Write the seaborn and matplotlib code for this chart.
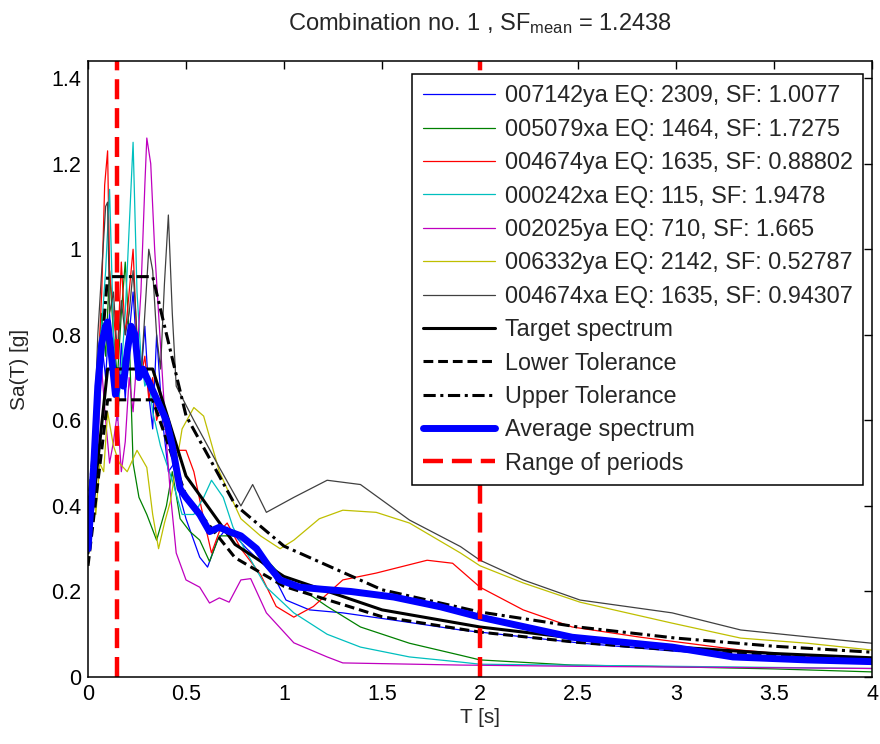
import numpy as np
import pandas as pd
import matplotlib
matplotlib.use("Agg")
import matplotlib.pyplot as plt
import seaborn as sns
from matplotlib.ticker import FuncFormatter

# ---------------- data ----------------
rec_labels = [
    "007142ya EQ: 2309, SF: 1.0077",
    "005079xa EQ: 1464, SF: 1.7275",
    "004674ya EQ: 1635, SF: 0.88802",
    "000242xa EQ: 115, SF: 1.9478",
    "002025ya EQ: 710, SF: 1.665",
    "006332ya EQ: 2142, SF: 0.52787",
    "004674xa EQ: 1635, SF: 0.94307",
]

blue_T = [0, 0.03, 0.05, 0.07, 0.09, 0.11, 0.13, 0.15, 0.17, 0.19, 0.21, 0.23, 0.25, 0.27, 0.29,
          0.31, 0.33, 0.35, 0.38, 0.41, 0.44, 0.47, 0.5, 0.57, 0.61, 0.66, 0.71, 0.81, 0.94, 1.01,
          1.13, 1.3, 1.56, 1.9, 2.0, 2.5, 3.0, 3.5, 4.0]
blue_v = [0.3, 0.45, 0.62, 0.78, 0.7, 0.85, 0.72, 0.6, 0.78, 0.65, 0.8, 0.9, 0.75, 0.7, 0.82,
          0.66, 0.58, 0.8, 0.6, 0.48, 0.5, 0.42, 0.37, 0.28, 0.257, 0.32, 0.35, 0.30, 0.243, 0.18,
          0.157, 0.15, 0.133, 0.11, 0.105, 0.08, 0.06, 0.045, 0.038]

green_T = [0, 0.03, 0.05, 0.07, 0.09, 0.11, 0.13, 0.15, 0.17, 0.19, 0.21, 0.23, 0.26, 0.30, 0.35,
           0.40, 0.43, 0.47, 0.52, 0.57, 0.62, 0.67, 0.78, 0.88, 0.98, 1.22, 1.39, 1.64, 1.9, 2.0,
           2.47, 2.98, 3.5, 4.0]
green_v = [0.3, 0.5, 0.7, 0.85, 0.75, 0.95, 0.8, 0.7, 0.85, 0.97, 0.8, 0.5, 0.42, 0.38, 0.32,
           0.40, 0.48, 0.37, 0.34, 0.32, 0.27, 0.33, 0.33, 0.29, 0.24, 0.165, 0.117, 0.079, 0.051, 0.04,
           0.028, 0.024, 0.019, 0.012]

red_T = [0, 0.03, 0.05, 0.07, 0.085, 0.10, 0.11, 0.13, 0.15, 0.17, 0.19, 0.21, 0.23, 0.25, 0.27,
         0.29, 0.31, 0.33, 0.35, 0.37, 0.42, 0.5, 0.54, 0.59, 0.63, 0.67, 0.71, 0.78, 0.88, 0.96,
         1.05, 1.15, 1.30, 1.47, 1.73, 1.86, 2.0, 2.22, 2.47, 2.82, 3.33, 4.0]
red_v = [0.3, 0.45, 0.7, 0.9, 1.15, 1.23, 0.95, 0.85, 0.75, 0.97, 0.8, 0.9, 1.0, 0.78, 0.7,
         0.75, 0.65, 0.7, 0.6, 0.63, 0.53, 0.53, 0.48, 0.37, 0.29, 0.34, 0.36, 0.30, 0.24, 0.165,
         0.14, 0.165, 0.227, 0.243, 0.273, 0.266, 0.21, 0.157, 0.117, 0.093, 0.063, 0.035]

cyan_T = [0, 0.03, 0.05, 0.07, 0.09, 0.11, 0.13, 0.15, 0.17, 0.19, 0.21, 0.23, 0.25, 0.27, 0.29,
          0.31, 0.33, 0.35, 0.37, 0.43, 0.48, 0.54, 0.59, 0.63, 0.69, 0.74, 0.81, 0.91, 1.05, 1.22,
          1.39, 1.64, 1.9, 2.0, 3.0, 4.0]
cyan_v = [0.3, 0.55, 0.75, 0.82, 0.95, 1.14, 0.8, 0.6, 0.72, 0.85, 1.05, 1.25, 0.9, 0.75, 0.68,
          0.7, 0.62, 0.58, 0.54, 0.46, 0.38, 0.38, 0.42, 0.46, 0.42, 0.35, 0.29, 0.21, 0.15, 0.10,
          0.07, 0.047, 0.035, 0.03, 0.025, 0.02]

mag_T = [0, 0.03, 0.05, 0.07, 0.09, 0.11, 0.13, 0.15, 0.17, 0.19, 0.21, 0.23, 0.25, 0.27, 0.29,
         0.30, 0.32, 0.34, 0.36, 0.38, 0.40, 0.42, 0.45, 0.5, 0.57, 0.62, 0.67, 0.72, 0.78, 0.83,
         0.91, 1.05, 1.22, 1.30, 1.9, 2.5, 4.0]
mag_v = [0.3, 0.45, 0.55, 0.72, 0.6, 0.5, 0.55, 0.62, 0.48, 0.55, 0.7, 0.62, 0.75, 0.9, 1.15,
         1.26, 1.2, 1.0, 0.85, 0.7, 0.55, 0.43, 0.29, 0.227, 0.21, 0.173, 0.185, 0.175, 0.227, 0.23,
         0.15, 0.08, 0.047, 0.033, 0.028, 0.025, 0.02]

yel_T = [0, 0.02, 0.04, 0.06, 0.08, 0.10, 0.13, 0.16, 0.20, 0.25, 0.30, 0.33, 0.36, 0.39, 0.42,
         0.48, 0.54, 0.59, 0.67, 0.78, 0.88, 0.98, 1.05, 1.18, 1.30, 1.47, 1.64, 1.9, 2.0, 2.22,
         2.51, 2.98, 3.33, 3.67, 4.0]
yel_v = [0.3, 0.5, 0.38, 0.5, 0.48, 0.62, 0.54, 0.5, 0.48, 0.53, 0.49, 0.38, 0.30, 0.36, 0.41,
         0.58, 0.63, 0.61, 0.48, 0.37, 0.33, 0.30, 0.32, 0.37, 0.39, 0.385, 0.36, 0.29, 0.26, 0.22,
         0.175, 0.126, 0.091, 0.079, 0.063]

gray_T = [0, 0.03, 0.05, 0.07, 0.09, 0.10, 0.11, 0.13, 0.15, 0.17, 0.19, 0.21, 0.23, 0.25, 0.27,
          0.29, 0.31, 0.33, 0.35, 0.37, 0.39, 0.41, 0.43, 0.45, 0.54, 0.67, 0.78, 0.84, 0.91, 1.05,
          1.22, 1.39, 1.64, 1.9, 2.0, 2.22, 2.51, 2.98, 3.33, 3.67, 4.0]
gray_v = [0.3, 0.55, 0.8, 0.95, 1.1, 1.11, 0.85, 0.9, 0.75, 0.88, 0.8, 0.85, 0.95, 0.8, 0.7,
          0.85, 1.0, 0.95, 0.8, 0.72, 0.92, 1.08, 0.85, 0.68, 0.60, 0.49, 0.40, 0.45, 0.385, 0.42,
          0.46, 0.45, 0.367, 0.305, 0.273, 0.227, 0.18, 0.15, 0.11, 0.094, 0.079]

target_T = [0, 0.1, 0.33, 0.5, 0.75, 1.0, 1.5, 2.0, 2.5, 3.0, 3.5, 4.0]
target_v = [0.29, 0.72, 0.72, 0.47, 0.31, 0.235, 0.157, 0.117, 0.09, 0.07, 0.055, 0.045]
lower_v = [0.26, 0.648, 0.648, 0.423, 0.279, 0.212, 0.141, 0.105, 0.081, 0.063, 0.05, 0.04]
upper_v = [0.377, 0.936, 0.936, 0.611, 0.403, 0.306, 0.204, 0.152, 0.117, 0.091, 0.072, 0.058]

avg_T = [0, 0.03, 0.05, 0.07, 0.09, 0.10, 0.12, 0.14, 0.16, 0.18, 0.20, 0.22, 0.24, 0.26, 0.28,
         0.30, 0.32, 0.35, 0.38, 0.40, 0.43, 0.47, 0.50, 0.57, 0.62, 0.67, 0.72, 0.78, 0.86, 0.92,
         0.98, 1.08, 1.20, 1.34, 1.56, 1.80, 2.0, 2.47, 2.98, 3.29, 3.67, 4.0]
avg_v = [0.3, 0.5, 0.68, 0.78, 0.82, 0.83, 0.75, 0.66, 0.70, 0.68, 0.76, 0.82, 0.80, 0.70, 0.72,
         0.70, 0.68, 0.65, 0.62, 0.60, 0.54, 0.44, 0.42, 0.38, 0.34, 0.35, 0.34, 0.33, 0.30, 0.26,
         0.227, 0.21, 0.205, 0.20, 0.187, 0.164, 0.14, 0.093, 0.07, 0.047, 0.04, 0.036]

period_range = [0.15, 2.0]

x_ticks = [0, 0.5, 1, 1.5, 2, 2.5, 3, 3.5, 4]
y_ticks = [0, 0.2, 0.4, 0.6, 0.8, 1.0, 1.2, 1.4]

# ---------------- styling ----------------
sns.set_style("white")
plt.rcParams["font.family"] = ["Liberation Sans", "DejaVu Sans"]
plt.rcParams["mathtext.fontset"] = "custom"
plt.rcParams["mathtext.rm"] = "Liberation Sans"
plt.rcParams["mathtext.it"] = "Liberation Sans:italic"

rec_colors = [(0, 0, 1), (0, 0.5, 0), (1, 0, 0), (0, 0.75, 0.75),
              (0.75, 0, 0.75), (0.75, 0.75, 0), (0.25, 0.25, 0.25)]
rec_T = [blue_T, green_T, red_T, cyan_T, mag_T, yel_T, gray_T]
rec_v = [blue_v, green_v, red_v, cyan_v, mag_v, yel_v, gray_v]

fig = plt.figure(figsize=(8.8, 7.44), dpi=100)
ax = fig.add_axes([0.1, 0.09, 0.891, 0.828])

for T, v, c, lab in zip(rec_T, rec_v, rec_colors, rec_labels):
    sns.lineplot(x=T, y=v, color=c, linewidth=0.9, label=lab, ax=ax, sort=False)

sns.lineplot(x=target_T, y=target_v, color="black", linewidth=2.2, label="Target spectrum", ax=ax, sort=False)
sns.lineplot(x=target_T, y=lower_v, color="black", linewidth=2.2, linestyle=(0, (3.2, 1.6)),
             label="Lower Tolerance", ax=ax, sort=False)
sns.lineplot(x=target_T, y=upper_v, color="black", linewidth=2.2, linestyle=(0, (4, 1.5, 1, 1.5)),
             label="Upper Tolerance", ax=ax, sort=False)
sns.lineplot(x=avg_T, y=avg_v, color=(0, 0, 1), linewidth=5, label="Average spectrum", ax=ax, sort=False)

for i, p in enumerate(period_range):
    ax.axvline(p, color="red", linewidth=3.2, linestyle=(0, (4.5, 2)),
               label="Range of periods" if i == 0 else None)

ax.set_xlim(0, 4)
ax.set_ylim(0, 1.44)
ax.set_xticks(x_ticks)
ax.set_yticks(y_ticks)
fmt = FuncFormatter(lambda v, p: f"{v:g}")
ax.xaxis.set_major_formatter(fmt)
ax.yaxis.set_major_formatter(fmt)
ax.tick_params(direction="in", length=6, width=1, top=True, right=True,
               labelsize=15.5, colors="black", pad=5)
for s in ax.spines.values():
    s.set_color("black")
    s.set_linewidth(1.1)

ax.set_xlabel("T [s]", fontsize=15, labelpad=2)
ax.set_ylabel("Sa(T) [g]", fontsize=15, labelpad=16)
ax.set_title(r"Combination no. 1 , SF$_{\mathrm{mean}}$ = 1.2438", fontsize=17, pad=22)

leg = ax.legend(loc="upper right", bbox_to_anchor=(0.9885, 0.979), fontsize=16.8,
                frameon=True, fancybox=False, framealpha=1, edgecolor="black",
                handlelength=3.1, handletextpad=0.42, labelspacing=0.445,
                borderpad=0.45, borderaxespad=0)
leg.get_frame().set_linewidth(1.1)

fig.savefig("out.png", dpi=100)
